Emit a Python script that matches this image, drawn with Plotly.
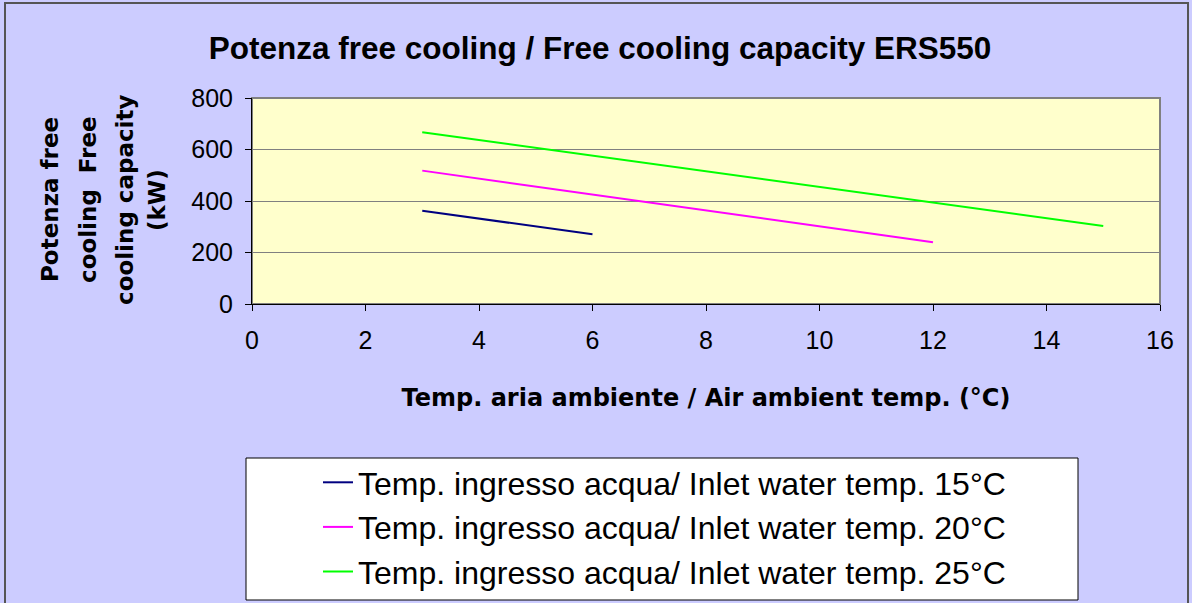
import plotly.graph_objects as go

# Data
x_15 = [3, 6]
y_15 = [362, 271]
x_20 = [3, 12]
y_20 = [518, 240]
x_25 = [3, 15]
y_25 = [667, 303]
series_names = [
    "Temp. ingresso acqua/ Inlet water temp. 15°C",
    "Temp. ingresso acqua/ Inlet water temp. 20°C",
    "Temp. ingresso acqua/ Inlet water temp. 25°C",
]
colors = ["#000080", "#FF00FF", "#00FF00"]
x_ticks = [0, 2, 4, 6, 8, 10, 12, 14, 16]
y_ticks = [0, 200, 400, 600, 800]
y_title_lines = ["Potenza free", "cooling  Free", "cooling capacity", "(kW)"]

W, H = 1192, 603
L, R, T, B = 252, 32, 98, 299
pw, ph = W - L - R, H - T - B

def px_x(p):
    return (p - L) / pw

def px_y(p):
    return 1 - (p - T) / ph

fig = go.Figure()
for xs, ys, name, c, g in zip([x_15, x_20, x_25], [y_15, y_20, y_25], series_names, colors, ["a", "b", "c"]):
    fig.add_trace(go.Scatter(x=xs, y=ys, mode="lines", name=name,
                             line=dict(color=c, width=2), legendgroup=g))

font_main = "Liberation Sans, Arial, sans-serif"
font_bold_axis = "DejaVu Sans, sans-serif"

fig.update_layout(
    width=W, height=H,
    margin=dict(l=L, r=R, t=T, b=B, autoexpand=False),
    paper_bgcolor="#CCCCFF",
    plot_bgcolor="#FFFFCC",
    title=dict(text="<b>Potenza free cooling / Free cooling capacity ERS550</b>",
               x=600 / W, xanchor="center", y=1 - 48 / H, yanchor="middle",
               font=dict(family=font_main, size=31.5, color="black")),
    xaxis=dict(range=[0, 16], tickvals=x_ticks, ticks="outside", ticklen=6,
               tickcolor="black", showline=True, linecolor="black", linewidth=1,
               mirror=False, showgrid=False, zeroline=False, ticklabelstandoff=8,
               tickfont=dict(family=font_main, size=25, color="black"),
               title=dict(text="<b>Temp. aria ambiente / Air ambient temp. (°C)</b>",
                          font=dict(family=font_bold_axis, size=24, color="black"), standoff=36)),
    yaxis=dict(range=[0, 800], tickvals=y_ticks, ticks="outside", ticklen=6,
               tickcolor="black", showline=True, linecolor="black", linewidth=1,
               showgrid=True, gridcolor="#808080", gridwidth=1, zeroline=False,
               ticklabelstandoff=7,
               tickfont=dict(family=font_main, size=25, color="black")),
    legend=dict(x=px_x(318), y=px_y(455), xanchor="left", yanchor="top",
                bgcolor="rgba(0,0,0,0)", borderwidth=0,
                font=dict(family=font_main, size=32, color="black"),
                tracegroupgap=0),
    showlegend=True,
)

# y-axis title lines
xs_title = [50, 88, 125, 157]
for line, xp in zip(y_title_lines, xs_title):
    fig.add_annotation(text="<b>" + line + "</b>", xref="paper", yref="paper",
                       x=px_x(xp), y=px_y(200), textangle=-90, showarrow=False,
                       xanchor="center", yanchor="middle",
                       font=dict(family=font_bold_axis, size=23, color="black"))

# plot area border (top/right)
fig.add_shape(type="rect", xref="paper", yref="paper", x0=0, y0=0, x1=1, y1=1,
              line=dict(color="#808080", width=2), layer="below")
# legend box
fig.add_shape(type="rect", xref="paper", yref="paper",
              x0=px_x(246), x1=px_x(1078), y0=px_y(458), y1=px_y(600),
              fillcolor="white", line=dict(color="black", width=1), layer="below")
# outer border
fig.add_shape(type="rect", xref="paper", yref="paper",
              x0=px_x(5), x1=px_x(1188), y0=px_y(3), y1=px_y(610),
              line=dict(color="#555555", width=2), fillcolor="rgba(0,0,0,0)")

fig.write_html("out.html", config={"displayModeBar": False},
               post_script="document.body.style.margin='0';document.body.style.overflow='hidden';")
